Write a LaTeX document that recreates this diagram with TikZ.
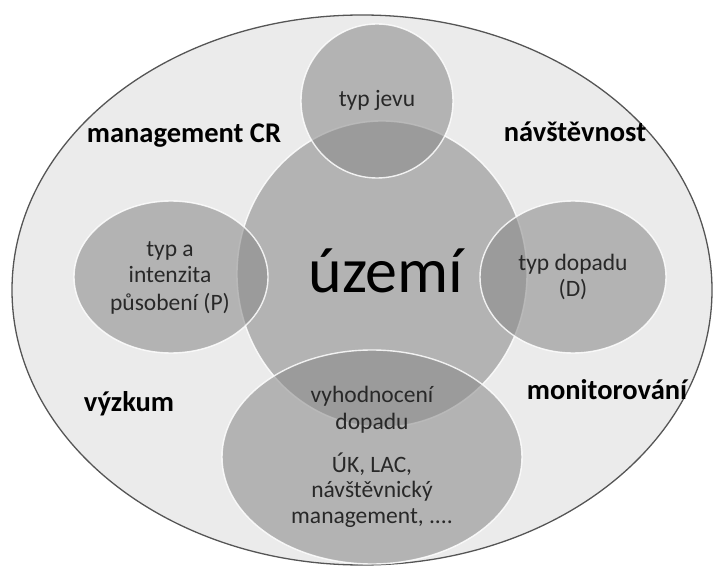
\documentclass[tikz,border=0pt]{standalone}
\usepackage{fontspec}
\setmainfont{Carlito}
\usetikzlibrary{shapes.geometric}
\definecolor{outerfill}{RGB}{235,235,235}
\definecolor{outerline}{RGB}{85,85,85}
\definecolor{blobfill}{RGB}{138,138,138}
\definecolor{innertext}{RGB}{40,40,40}
\tikzset{
  blob/.style={ellipse, inner sep=0pt, outer sep=0pt, fill=blobfill, fill opacity=0.57,
    draw=white, draw opacity=0.85, line width=1.4pt},
  lbl/.style={anchor=base, inner sep=0pt, font=\fontsize{28.5}{32}\selectfont\bfseries, text=black},
  itxt/.style={anchor=base, inner sep=0pt, font=\fontsize{23.5}{27}\selectfont, text=innertext},
}
\begin{document}
\begin{tikzpicture}[x=1pt,y=-1pt]
\useasboundingbox (0,0) rectangle (713,567);
\node[ellipse, inner sep=0pt, minimum width=700pt, minimum height=550pt, fill=outerfill, draw=outerline, line width=1.3pt] (outer) at (362,290) {};
\node[blob, minimum width=290pt, minimum height=306pt] (center) at (382,274) {};
\node[blob, minimum width=152pt, minimum height=154pt] (top) at (377,101) {};
\node[blob, minimum width=194pt, minimum height=152pt] (left) at (171,277) {};
\node[blob, minimum width=186pt, minimum height=152pt] (right) at (573,277) {};
\node[blob, minimum width=300pt, minimum height=214pt] (bottom) at (372,457) {};
% labels
\node[lbl] (mgmt) at (184,143) {management CR};
\node[lbl] (navst) at (575,142) {návštěvnost};
\node[lbl] (vyzk) at (129,411) {výzkum};
\node[lbl] (monit) at (607,399) {monitorování};
\node[anchor=base, inner sep=0pt, font=\fontsize{64}{70}\selectfont] (uzemi) at (386,292) {území};
\node[itxt] (jev) at (377,107) {typ jevu};
\node[itxt] (pa) at (170,256) {typ a};
\node[itxt] (pb) at (170,283) {intenzita};
\node[itxt] (pc) at (170,310) {působení (P)};
\node[itxt] (da) at (573,270) {typ dopadu};
\node[itxt] (db) at (573,296) {(D)};
\node[itxt] (va) at (372,402) {vyhodnocení};
\node[itxt] (vb) at (372,429) {dopadu};
\node[itxt] (ua) at (372,472) {ÚK, LAC,};
\node[itxt] (ub) at (372,497) {návštěvnický};
\node[itxt] (uc) at (372,523) {management, ....};
\end{tikzpicture}
\end{document}
